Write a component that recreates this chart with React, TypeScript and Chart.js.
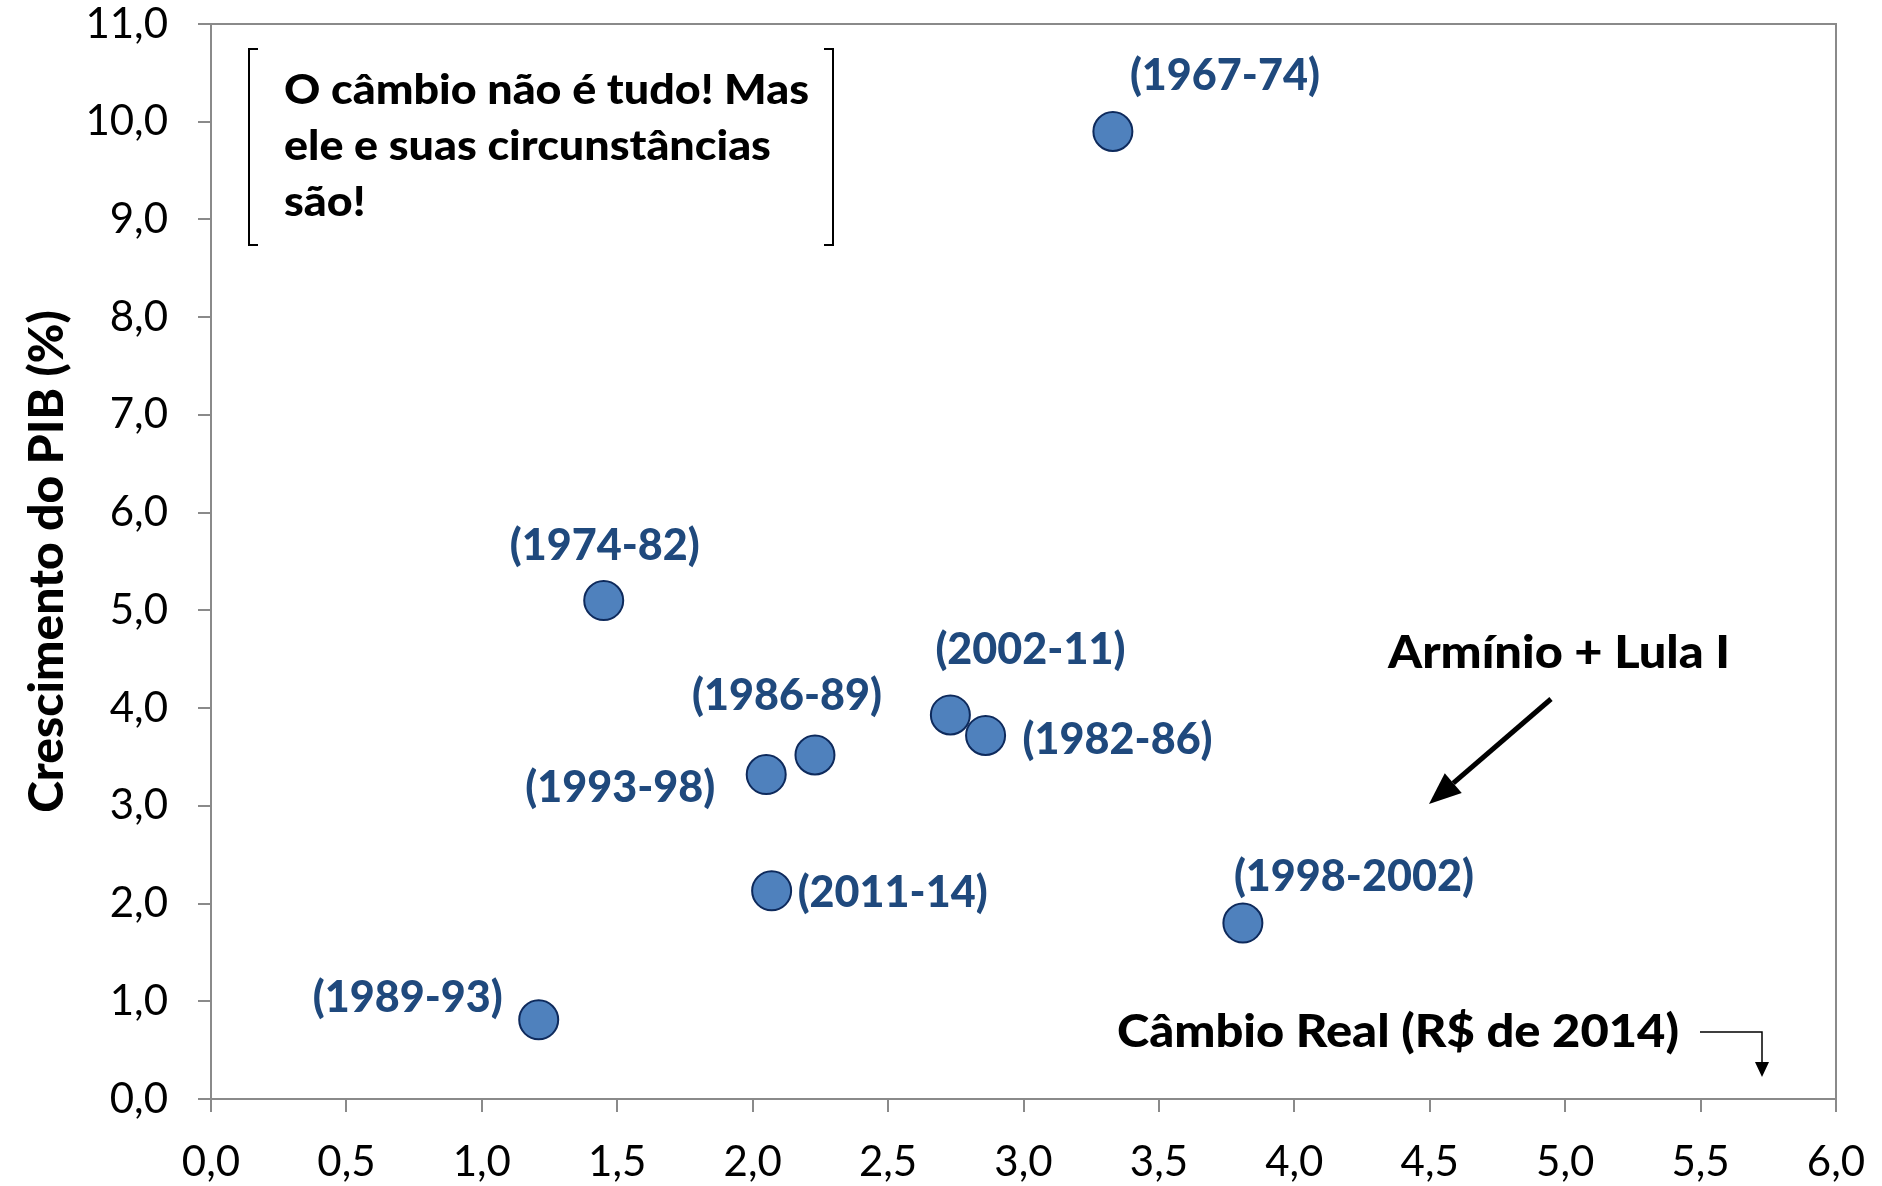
import { useEffect, useRef } from "react";
import { Chart, registerables } from "chart.js";

Chart.register(...registerables);

// ---- data ----
const periods = ["(1967-74)", "(1974-82)", "(1986-89)", "(1993-98)", "(2002-11)", "(1982-86)", "(2011-14)", "(1998-2002)", "(1989-93)"];
const cambioReal = [3.33, 1.45, 2.23, 2.05, 2.73, 2.86, 2.07, 3.81, 1.21];
const crescimentoPIB = [9.9, 5.1, 3.52, 3.32, 3.93, 3.72, 2.13, 1.8, 0.81];
const yAxisTitle = "Crescimento do PIB (%)";
const boxLines = ["O câmbio não é tudo! Mas", "ele e suas circunstâncias", "são!"];
const arrowNote = "Armínio + Lula I";
const xAxisNote = "Câmbio Real (R$ de 2014)";

// ---- layout (pixel offsets of labels relative to their points) ----
const labelOffsets: [number, number][] = [
  [112, -58], [1, -57], [-28, -61], [-146, 11], [80, -67], [132, 3], [121, 0], [111, -48], [-131, -24],
];

const AXIS_COLOR = "#8a8a8a";
const LABEL_COLOR = "#1F497D";
const FONT = "Lato";

function fmt(v: number) {
  return Number(v).toFixed(1).replace(".", ",");
}

function drawText(ctx: CanvasRenderingContext2D, text: string, left: number, baseline: number, font: string, color: string, sx: number) {
  ctx.save();
  ctx.font = font;
  ctx.fillStyle = color;
  ctx.textAlign = "left";
  ctx.textBaseline = "alphabetic";
  ctx.translate(left, baseline);
  ctx.scale(sx, 1);
  ctx.fillText(text, 0, 0);
  ctx.restore();
}

function fitScale(ctx: CanvasRenderingContext2D, text: string, font: string, width: number) {
  ctx.save();
  ctx.font = font;
  const w = ctx.measureText(text).width;
  ctx.restore();
  return w > 0 ? width / w : 1;
}

const overlayPlugin = {
  id: "overlay",
  afterDraw(chart: any) {
    const ctx: CanvasRenderingContext2D = chart.ctx;
    const { chartArea } = chart;
    // frame top & right
    ctx.save();
    ctx.strokeStyle = AXIS_COLOR;
    ctx.lineWidth = 2;
    ctx.beginPath();
    ctx.moveTo(chartArea.left, chartArea.top);
    ctx.lineTo(chartArea.right, chartArea.top);
    ctx.lineTo(chartArea.right, chartArea.bottom);
    ctx.stroke();
    ctx.restore();

    // point labels
    const meta = chart.getDatasetMeta(0);
    const lf = `900 44px ${FONT}`;
    const lsx = fitScale(ctx, "(1967-74)", lf, 190);
    meta.data.forEach((pt: any, i: number) => {
      const [dx, dy] = labelOffsets[i];
      const text = periods[i];
      ctx.save();
      ctx.font = lf;
      const w = ctx.measureText(text).width * lsx;
      ctx.restore();
      drawText(ctx, text, pt.x + dx - w / 2, pt.y + dy + 16, lf, LABEL_COLOR, lsx);
    });

    // bracket text box
    ctx.save();
    ctx.strokeStyle = "#000";
    ctx.lineWidth = 2;
    ctx.beginPath();
    ctx.moveTo(258, 49); ctx.lineTo(249, 49); ctx.lineTo(249, 245); ctx.lineTo(258, 245);
    ctx.moveTo(824, 49); ctx.lineTo(833, 49); ctx.lineTo(833, 245); ctx.lineTo(824, 245);
    ctx.stroke();
    ctx.restore();
    const bf = `900 41px ${FONT}`;
    const bsx = fitScale(ctx, boxLines[0], bf, 525);
    const baselines = [104, 160, 216];
    boxLines.forEach((l, i) => drawText(ctx, l, 284, baselines[i], bf, "#000", bsx));

    // Armínio + Lula I
    const af = `900 46px ${FONT}`;
    drawText(ctx, arrowNote, 1388, 668, af, "#000", fitScale(ctx, arrowNote, af, 342));
    // big arrow
    ctx.save();
    ctx.strokeStyle = "#000";
    ctx.fillStyle = "#000";
    ctx.lineWidth = 5;
    const x1 = 1551, y1 = 699, x2 = 1429, y2 = 804;
    const ang = Math.atan2(y2 - y1, x2 - x1);
    const hl = 32, hw = 13;
    const bx = x2 - hl * Math.cos(ang), by = y2 - hl * Math.sin(ang);
    ctx.beginPath();
    ctx.moveTo(x1, y1);
    ctx.lineTo(bx, by);
    ctx.stroke();
    ctx.beginPath();
    ctx.moveTo(x2, y2);
    ctx.lineTo(bx + hw * Math.sin(ang), by - hw * Math.cos(ang));
    ctx.lineTo(bx - hw * Math.sin(ang), by + hw * Math.cos(ang));
    ctx.closePath();
    ctx.fill();
    ctx.restore();

    // Câmbio Real note
    const cf = `900 45px ${FONT}`;
    drawText(ctx, xAxisNote, 1117, 1047, cf, "#000", fitScale(ctx, xAxisNote, cf, 562));
    // small elbow arrow
    ctx.save();
    ctx.strokeStyle = "#000";
    ctx.fillStyle = "#000";
    ctx.lineWidth = 1.5;
    ctx.beginPath();
    ctx.moveTo(1700, 1032);
    ctx.lineTo(1762, 1032);
    ctx.lineTo(1762, 1064);
    ctx.stroke();
    ctx.beginPath();
    ctx.moveTo(1762, 1077);
    ctx.lineTo(1755, 1062);
    ctx.lineTo(1769, 1062);
    ctx.closePath();
    ctx.fill();
    ctx.restore();
  },
};

export default function App() {
  const ref = useRef<HTMLCanvasElement | null>(null);

  useEffect(() => {
    document.body.style.margin = "0";
    if (!ref.current) return;
    const chart = new Chart(ref.current, {
      type: "scatter",
      data: {
        datasets: [
          {
            label: "PIB",
            data: cambioReal.map((x, i) => ({ x, y: crescimentoPIB[i] })),
            backgroundColor: "#4F81BD",
            borderColor: "#0E2A5C",
            borderWidth: 2,
            pointRadius: 19.5,
            pointHoverRadius: 19.5,
          },
        ],
      },
      options: {
        animation: false,
        responsive: false,
        devicePixelRatio: 1,
        layout: { padding: { left: 0, right: 46, top: 24, bottom: 0 } },
        plugins: {
          legend: { display: false },
          tooltip: { enabled: false },
        },
        scales: {
          x: {
            type: "linear",
            position: "bottom",
            min: 0,
            max: 6,
            ticks: {
              stepSize: 0.5,
              color: "#000",
              font: { family: FONT, size: 42 },
              padding: 25,
              callback: (v: any) => fmt(v),
            },
            grid: { drawOnChartArea: false, drawTicks: true, tickLength: 13, color: AXIS_COLOR, lineWidth: 2 },
            border: { color: AXIS_COLOR, width: 2 },
            afterFit: (s: any) => {
              s.height = 87;
              s.paddingLeft = 0;
              s.paddingRight = 0;
            },
          },
          y: {
            type: "linear",
            min: 0,
            max: 11,
            ticks: {
              stepSize: 1,
              color: "#000",
              font: { family: FONT, size: 42 },
              padding: 30,
              callback: (v: any) => fmt(v),
            },
            grid: { drawOnChartArea: false, drawTicks: true, tickLength: 13, color: AXIS_COLOR, lineWidth: 2 },
            border: { color: AXIS_COLOR, width: 2 },
            title: {
              display: true,
              text: yAxisTitle,
              color: "#000",
              font: { family: FONT, size: 48, weight: "900" },
              padding: { top: 19, bottom: 0 },
            },
            afterFit: (s: any) => {
              s.width = 211;
              s.paddingTop = 0;
              s.paddingBottom = 0;
            },
          },
        },
      },
      plugins: [overlayPlugin],
    });
    return () => chart.destroy();
  }, []);

  return (
    <div style={{ width: 1882, height: 1186 }}>
      <canvas ref={ref} width={1882} height={1186} style={{ display: "block" }} />
    </div>
  );
}
